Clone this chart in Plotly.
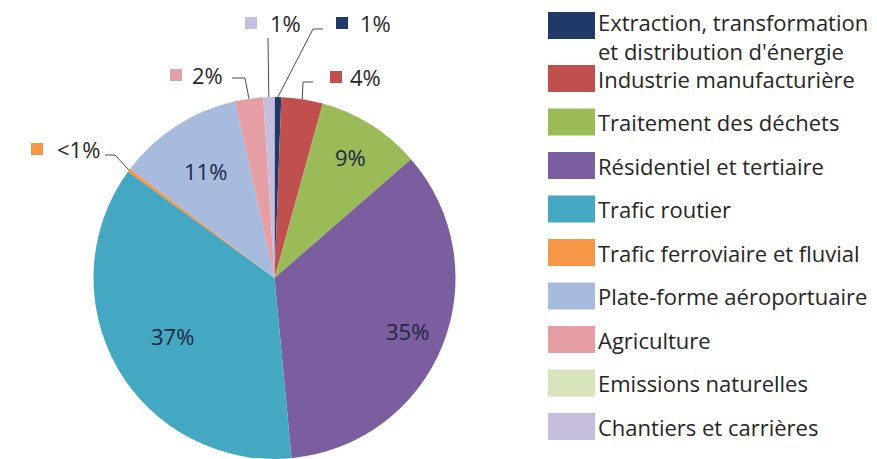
import math
import plotly.graph_objects as go

# ---- data ----
categories = [
    "Extraction, transformation<br>et distribution d'énergie",
    "Industrie manufacturière",
    "Traitement des déchets",
    "Résidentiel et tertiaire",
    "Trafic routier",
    "Trafic ferroviaire et fluvial",
    "Plate-forme aéroportuaire",
    "Agriculture",
    "Emissions naturelles",
    "Chantiers et carrières",
]
values = [0.6, 3.7, 9.3, 34.9, 36.5, 0.3, 11.2, 2.5, 0.0, 1.0]
pct_labels = ["1%", "4%", "9%", "35%", "37%", "<1%", "11%", "2%", "", "1%"]
colors = ["#1f3a68", "#c0504d", "#9bbb59", "#7b5ea0", "#44a8c2",
          "#f79646", "#a7bbdf", "#e49ea4", "#d7e4bd", "#c7bddf"]

# ---- layout constants (page pixels) ----
W, H = 877, 459
OFF = 8  # default body margin of the html page
PIE_CX, PIE_CY, PIE_R = 274.5, 278.0, 181.0
FONT = "Open Sans"
FS = 22
TXT = "#262626"
LBL = "#1e2740"

def px(x):
    return (x - OFF) / W

def py(y):
    return 1 - (y - OFF) / H

fig = go.Figure()
fig.add_trace(go.Pie(
    labels=categories,
    values=values,
    textinfo="none",
    marker=dict(colors=colors, line=dict(width=0)),
    sort=False,
    direction="clockwise",
    rotation=0,
    showlegend=False,
    hoverinfo="label+percent",
    domain=dict(x=[px(PIE_CX - PIE_R), px(PIE_CX + PIE_R)],
                y=[py(PIE_CY + PIE_R), py(PIE_CY - PIE_R)]),
))

shapes = []
annotations = []

# slice mid angles from the data
total = sum(values)
cum = 0.0
mids = []
for v in values:
    mids.append((cum + v / 2) / total * 2 * math.pi)
    cum += v

def polar(idx, frac):
    a = mids[idx]
    return (PIE_CX + frac * PIE_R * math.sin(a), PIE_CY - frac * PIE_R * math.cos(a))

# ---- inside labels (radial placement fraction) ----
inside_layout = {2: 0.79, 3: 0.79, 4: 0.65, 6: 0.70}
for idx, frac in inside_layout.items():
    x, y = polar(idx, frac)
    annotations.append(dict(x=px(x), y=py(y), xref="paper", yref="paper",
                            text=pct_labels[idx], showarrow=False,
                            xanchor="center", yanchor="middle",
                            font=dict(family=FONT, size=FS, color=LBL)))

# ---- outside labels with leader lines ----
# index: (elbow points after edge, square x, text x, label y)
outside_layout = {
    0: ([(313, 29), (323, 29)], 336, 358, 23),
    9: ([(268, 38)], 245, 268, 23),
    7: ([(245, 78), (232, 78)], 170, 190, 75),
    1: ([(303, 82), (313, 82)], 330, 348, 77),
    5: ([(115, 155), (105, 155)], 31, 55, 149),
}
for idx, (pts, sqx, tx, ly) in outside_layout.items():
    path_pts = [polar(idx, 1.0)] + pts
    d = "M " + " L ".join(f"{px(x)},{py(y)}" for x, y in path_pts)
    shapes.append(dict(type="path", xref="paper", yref="paper", path=d,
                       line=dict(color="#4a4a4a", width=1)))
    shapes.append(dict(type="rect", xref="paper", yref="paper",
                       x0=px(sqx), x1=px(sqx + 12), y0=py(ly + 6), y1=py(ly - 6),
                       fillcolor=colors[idx], line=dict(width=0)))
    annotations.append(dict(x=px(tx), y=py(ly), xref="paper", yref="paper",
                            text=pct_labels[idx], showarrow=False,
                            xanchor="left", yanchor="middle",
                            font=dict(family=FONT, size=FS, color=TXT)))

# ---- custom legend ----
LEG_X0, LEG_X1, SW_H = 548, 595, 27
LEG_TX = 596
leg_tops = [12, 65, 108.5, 152, 195.5, 239, 282.5, 326, 369.5, 413]
for name, col, top in zip(categories, colors, leg_tops):
    shapes.append(dict(type="rect", xref="paper", yref="paper",
                       x0=px(LEG_X0), x1=px(LEG_X1), y0=py(top + SW_H), y1=py(top),
                       fillcolor=col, line=dict(width=0)))
    ycenter = top + SW_H / 2
    if "<br>" in name:
        ycenter = top + SW_H / 2 + 11.5
    annotations.append(dict(x=px(LEG_TX), y=py(ycenter), xref="paper", yref="paper",
                            text=name, showarrow=False, align="left",
                            xanchor="left", yanchor="middle",
                            font=dict(family=FONT, size=FS, color=TXT)))

fig.update_layout(
    width=W, height=H,
    margin=dict(l=0, r=0, t=0, b=0),
    paper_bgcolor="white",
    plot_bgcolor="white",
    shapes=shapes,
    annotations=annotations,
)

fig.write_html("out.html")
